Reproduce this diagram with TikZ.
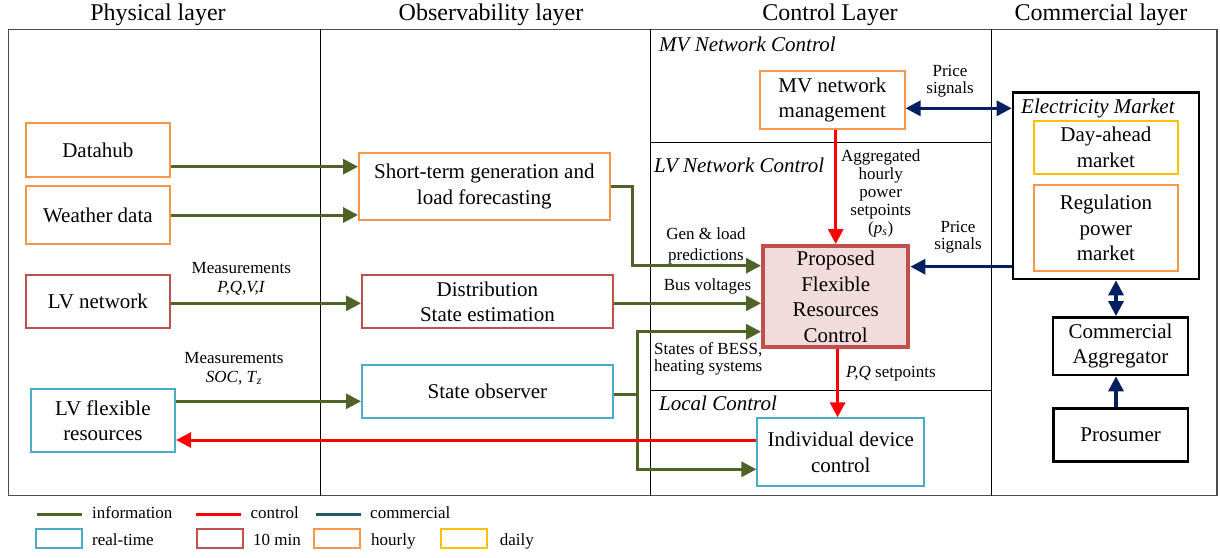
\documentclass[tikz,border=0pt]{standalone}
\usepackage{fontspec}
\setmainfont{Liberation Serif}
\newfontfamily\tnr{Liberation Serif}
\usetikzlibrary{arrows.meta}

\definecolor{infogreen}{HTML}{4F6228}
\definecolor{ctrlred}{HTML}{FF0000}
\definecolor{commnavy}{HTML}{002060}
\definecolor{commteal}{HTML}{215967}
\definecolor{rtblue}{HTML}{4BACC6}
\definecolor{tenred}{HTML}{C0504D}
\definecolor{hourlyor}{HTML}{F79646}
\definecolor{dailyyel}{HTML}{FFC000}
\definecolor{pinkfill}{HTML}{F2DCDB}

\newcommand{\bxfont}{\tnr\fontsize{21}{25.5}\selectfont}
\newcommand{\lblfont}{\tnr\fontsize{17}{19}\selectfont}
\newcommand{\hdfont}{\tnr\fontsize{24}{28}\selectfont}

\begin{document}
\begin{tikzpicture}[x=1pt,y=-1pt,
  box/.style={draw, line width=2pt, inner sep=0pt, align=center, font=\bxfont},
  rtbox/.style={box, draw=rtblue},
  tenbox/.style={box, draw=tenred},
  hrbox/.style={box, draw=hourlyor},
  dybox/.style={box, draw=dailyyel},
  blkbox/.style={box, draw=black, line width=2.6pt},
  tipA/.tip={Triangle[length=15pt,width=15pt]},
  info/.style={draw=infogreen, line width=3pt, line join=miter, -tipA},
  ctrl/.style={draw=ctrlred, line width=3pt, -tipA},
  comm/.style={draw=commnavy, line width=3.2pt, -tipA},
  lbl/.style={font=\lblfont, align=center, inner sep=0pt},
  sect/.style={font=\tnr\fontsize{21}{25}\selectfont\itshape, inner sep=0pt, anchor=base west},
  head/.style={font=\hdfont, inner sep=0pt, anchor=base},
  divider/.style={draw=black, line width=1pt},
  legtxt/.style={font=\lblfont, inner sep=0pt, anchor=base west}
]
\useasboundingbox (0,0) rectangle (1220,557);

% layer headings
\node[head] (hphys) at (158,20) {Physical layer};
\node[head] (hobs) at (491,20) {Observability layer};
\node[head] (hctrl) at (830,20) {Control Layer};
\node[head] (hcomm) at (1101,20) {Commercial layer};

% frame and layer dividers
\draw[draw=black!70, line width=1.5pt] (8.3,29.3) rectangle (1217,495.7);
\draw[divider] (320.5,29.3) -- (320.5,495.7);
\draw[divider] (650.6,29.3) -- (650.6,495.7);
\draw[divider] (991.5,29.3) -- (991.5,495.7);
\draw[divider] (650.6,142.7) -- (991.5,142.7);
\draw[divider] (650.6,390) -- (991.5,390);

% control sub-layers
\node[sect] (smv) at (659,51.7) {MV Network Control};
\node[sect] (slv) at (654,172.7) {LV Network Control};
\node[sect] (sloc) at (659,410) {Local Control};

% physical layer
\node[hrbox, minimum width=144.3pt, minimum height=53.4pt] (datahub) at (97.9,150) {Datahub};
\node[hrbox, minimum width=144.3pt, minimum height=58pt] (weather) at (97.9,215) {Weather data};
\node[tenbox, minimum width=144.3pt, minimum height=53.3pt] (lvnet) at (97.9,301.7) {LV network};
\node[rtbox, minimum width=144.3pt, minimum height=62.7pt] (lvflex) at (102.9,420.7) {LV flexible\\resources};

% observability layer
\node[hrbox, minimum width=250.5pt, minimum height=67.3pt] (stf) at (484.3,186.3) {Short-term generation and\\load forecasting};
\node[tenbox, minimum width=250.8pt, minimum height=53.3pt] (dse) at (487.4,301.7) {Distribution\\State estimation};
\node[rtbox, minimum width=250.8pt, minimum height=53pt] (sobs) at (487.4,391.8) {State observer};

% control layer
\node[hrbox, minimum width=144.5pt, minimum height=58.3pt] (mvm) at (832.3,99.9) {MV network\\management};
\node[box, draw=tenred, fill=pinkfill, line width=4pt, minimum width=145.4pt, minimum height=101.3pt] (pfrc) at (835.7,296.7) {Proposed\\Flexible\\Resources\\Control};
\node[rtbox, minimum width=166.8pt, minimum height=67.7pt] (idc) at (840.8,452.2) {Individual device\\control};

% commercial layer
\node[blkbox, minimum width=186pt, minimum height=186.7pt] (market) at (1106,185.7) {};
\node[sect] (smkt) at (1021,113.3) {Electricity Market};
\node[dybox, minimum width=144.2pt, minimum height=53.3pt] (dayahead) at (1105.9,147.4) {Day-ahead\\market};
\node[hrbox, minimum width=144.2pt, minimum height=85.7pt] (regpow) at (1105.9,227.9) {Regulation\\power\\market};
\node[blkbox, minimum width=135pt, minimum height=57.7pt] (aggr) at (1120.5,346.2) {Commercial\\Aggregator};
\node[blkbox, minimum width=134.5pt, minimum height=53.4pt] (prosumer) at (1120.7,435) {Prosumer};

% junction points of the routed connectors
\coordinate (jf) at (632,265.7);
\coordinate (jt) at (637,331.7);
\coordinate (jb) at (637,469.3);
\coordinate (ja) at (1116,0);

% information flows
\draw[info] ([yshift=-16.7pt]datahub.east) -- ([yshift=-16.7pt]datahub.east -| stf.west);
\draw[info] (weather.east) -- (weather.east -| stf.west);
\draw[info] (stf.east) -| (jf) -- (jf -| pfrc.west);
\draw[info] ([yshift=-1.6pt]lvnet.east) -- ([yshift=-1.6pt]lvnet.east -| dse.west);
\draw[info] ([yshift=-1.6pt]dse.east) -- ([yshift=-1.6pt]dse.east -| pfrc.west);
\draw[info] ([yshift=19.4pt]lvflex.east) -- ([yshift=19.4pt]lvflex.east -| sobs.west);
\draw[info, -] ([yshift=-2.5pt]sobs.east) -- ([yshift=-2.5pt]sobs.east -| jt);
\draw[info] (jb) -- (jt) -- (jt -| pfrc.west);
\draw[info] (jt) -- (jb) -- (jb -| idc.west);

% control flows
\draw[ctrl] (mvm.south -| pfrc.north) -- (pfrc.north);
\draw[ctrl] ([xshift=1.9pt]pfrc.south) -- ([xshift=1.9pt]pfrc.south |- idc.north);
\draw[ctrl] ([yshift=12.2pt]idc.west) -- ([yshift=12.2pt]idc.west -| lvflex.east);

% commercial flows
\draw[comm, tipA-tipA] ([yshift=-8.4pt]mvm.east) -- ([yshift=-8.4pt]mvm.east -| market.west);
\draw[comm] ([yshift=-81pt]market.west) -- ([yshift=-81pt]market.west -| pfrc.east);
\draw[comm, tipA-tipA] (market.south -| ja) -- (aggr.north -| ja);
\draw[comm] (prosumer.north -| ja) -- (aggr.south -| ja);

% connector labels
\node[lbl] (lmeas1) at (241.3,279.3) {Measurements\\\textit{P,Q,V,I}};
\node[lbl] (lmeas2) at (234,368.5) {Measurements\\\textit{SOC, T}\textsubscript{\textit{z}}};
\node[lbl, font=\tnr\fontsize{17}{17}\selectfont] (lprice1) at (950,81) {Price\\signals};
\node[lbl, font=\tnr\fontsize{17}{17}\selectfont] (lprice2) at (958,237.5) {Price\\signals};
\node[lbl, font=\tnr\fontsize{17}{18}\selectfont] (lagg) at (880.7,193) {Aggregated\\hourly\\power\\setpoints\\(\textit{p}\textsubscript{\textit{s}})};
\node[lbl, font=\tnr\fontsize{17}{21}\selectfont] (lgen) at (706,245.5) {Gen \& load\\predictions};
\node[lbl] (lbus) at (707.5,286) {Bus voltages};
\node[lbl, align=left, anchor=west, font=\tnr\fontsize{17}{17.5}\selectfont] (lstates) at (654,358.7) {States of BESS,\\heating systems};
\node[lbl, anchor=west] (lpq) at (846,373.3) {\textit{P,Q} setpoints};

% legend
\draw[draw=infogreen, line width=3.5pt] (37,514.3) -- (82,514.3);
\node[legtxt] (leginfo) at (92,518) {information};
\draw[draw=ctrlred, line width=3.5pt] (195.7,514.3) -- (241.3,514.3);
\node[legtxt] (legctrl) at (250.4,518) {control};
\draw[draw=commteal, line width=3.5pt] (316,514.3) -- (360.7,514.3);
\node[legtxt] (legcomm) at (370,518) {commercial};
\draw[draw=rtblue, line width=2pt] (36,529) rectangle (81.7,548.3);
\node[legtxt] (legrt) at (92,545) {real-time};
\draw[draw=tenred, line width=2pt] (197.3,529) rectangle (242.5,548.3);
\node[legtxt] (legten) at (253,545) {10 min};
\draw[draw=hourlyor, line width=2pt] (314,529) rectangle (360,548.3);
\node[legtxt] (leghr) at (371,545) {hourly};
\draw[draw=dailyyel, line width=2pt] (441,529) rectangle (487,548.3);
\node[legtxt] (legdy) at (499.6,545) {daily};
\end{tikzpicture}
\end{document}
